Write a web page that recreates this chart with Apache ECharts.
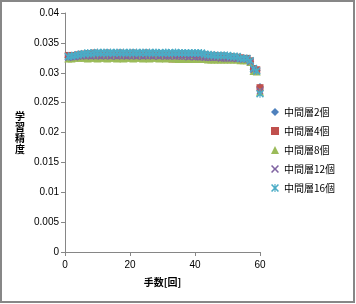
<!DOCTYPE html>
<html><head><meta charset="utf-8">
<script src="https://cdn.jsdelivr.net/npm/echarts@6/dist/echarts.min.js"></script>
<style>html,body{margin:0;padding:0;background:#fff}#c{width:356px;height:304px}</style>
</head><body><div id="c"></div>
<script>
var xValues = [];
for (var i = 1; i <= 60; i++) xValues.push(i);
var seriesNames = ['中間層2個','中間層4個','中間層8個','中間層12個','中間層16個'];
var yTicks = [0,0.005,0.01,0.015,0.02,0.025,0.03,0.035,0.04];
var xTicks = [0,20,40,60];
var s2 = [0.0326,0.0327,0.0328,0.0328,0.0329,0.0329,0.0330,0.0330,0.0330,0.0331,
 0.0330,0.0331,0.0330,0.0331,0.0331,0.0330,0.0331,0.0330,0.0331,0.0330,
 0.0331,0.0330,0.0331,0.0331,0.0330,0.0331,0.0330,0.0330,0.0331,0.0330,
 0.0330,0.0331,0.0330,0.0330,0.0330,0.0331,0.0330,0.0330,0.0330,0.0329,
 0.0330,0.0329,0.0329,0.0328,0.0328,0.0328,0.0327,0.0327,0.0327,0.0326,
 0.0326,0.0325,0.0325,0.0323,0.0323,0.0322,0.0319,0.0306,0.0304,0.0276];
var s4 = [0.0329,0.0328,0.0329,0.0330,0.0331,0.0331,0.0332,0.0331,0.0333,0.0331,
 0.0332,0.0331,0.0333,0.0331,0.0332,0.0332,0.0333,0.0331,0.0332,0.0331,
 0.0333,0.0331,0.0332,0.0331,0.0333,0.0331,0.0332,0.0331,0.0332,0.0331,
 0.0332,0.0331,0.0323,0.0331,0.0332,0.0331,0.0332,0.0331,0.0331,0.0331,
 0.0331,0.0330,0.0330,0.0329,0.0329,0.0329,0.0328,0.0328,0.0328,0.0327,
 0.0327,0.0326,0.0326,0.0325,0.0324,0.0324,0.0320,0.0307,0.0305,0.0275];
var s8 = [0.0324,0.0324,0.0325,0.0325,0.0325,0.0325,0.0324,0.0325,0.0325,0.0324,
 0.0325,0.0325,0.0324,0.0325,0.0325,0.0324,0.0325,0.0324,0.0325,0.0325,
 0.0324,0.0325,0.0325,0.0324,0.0325,0.0324,0.0325,0.0325,0.0324,0.0325,
 0.0324,0.0325,0.0324,0.0324,0.0323,0.0323,0.0323,0.0323,0.0323,0.0323,
 0.0323,0.0323,0.0323,0.0322,0.0322,0.0322,0.0322,0.0322,0.0322,0.0322,
 0.0322,0.0322,0.0322,0.0321,0.0321,0.0321,0.0318,0.0303,0.0302,0.0268];
var s12 = [0.0325,0.0326,0.0326,0.0327,0.0327,0.0328,0.0328,0.0327,0.0328,0.0328,
 0.0327,0.0328,0.0328,0.0327,0.0328,0.0327,0.0328,0.0328,0.0327,0.0328,
 0.0328,0.0327,0.0328,0.0327,0.0328,0.0328,0.0327,0.0328,0.0327,0.0328,
 0.0327,0.0327,0.0328,0.0327,0.0327,0.0327,0.0327,0.0326,0.0327,0.0326,
 0.0326,0.0326,0.0325,0.0325,0.0325,0.0325,0.0325,0.0324,0.0324,0.0324,
 0.0324,0.0324,0.0323,0.0323,0.0322,0.0322,0.0318,0.0305,0.0303,0.0270];
var s16 = [0.0327,0.0328,0.0329,0.0330,0.0331,0.0332,0.0333,0.0332,0.0333,0.0334,
 0.0333,0.0334,0.0333,0.0334,0.0333,0.0334,0.0333,0.0334,0.0333,0.0334,
 0.0333,0.0334,0.0333,0.0334,0.0333,0.0334,0.0333,0.0334,0.0333,0.0333,
 0.0334,0.0333,0.0333,0.0334,0.0333,0.0333,0.0333,0.0333,0.0333,0.0333,
 0.0333,0.0333,0.0331,0.0330,0.0330,0.0329,0.0329,0.0329,0.0329,0.0329,
 0.0327,0.0327,0.0327,0.0324,0.0324,0.0324,0.0320,0.0307,0.0303,0.0265];
var allSeries = [s2, s4, s8, s12, s16];
var colors = ['#4F81BD','#C0504D','#9BBB59','#8064A2','#4BACC6'];
var xPath = 'path://M0,1.4L1.4,0L5,3.6L8.6,0L10,1.4L6.4,5L10,8.6L8.6,10L5,6.4L1.4,10L0,8.6L3.6,5Z';
var starPath = 'path://M0,1.4L1.4,0L5,3.6L8.6,0L10,1.4L6.4,5L10,8.6L8.6,10L5,6.4L1.4,10L0,8.6L3.6,5Z M4.3,0L5.7,0L5.7,10L4.3,10Z';
var symbols = ['diamond','rect','triangle', xPath, starPath];
var symbolSizes = [8, 7, 8, 7, 8];

function pairs(arr){ return arr.map(function(v,i){ return [xValues[i], v]; }); }

var chart = echarts.init(document.getElementById('c'), null, {renderer:'canvas'});
var font = 'Liberation Sans, Arial, sans-serif';
chart.setOption({
  animation: false,
  color: colors,
  graphic: [{type:'rect', shape:{x:1,y:1,width:353,height:301}, style:{fill:'none', stroke:'#878787', lineWidth:2}, silent:true}],
  grid: {left:65, right:96, top:13, bottom:52},
  legend: {
    orient:'vertical', left:266, top:101, itemWidth:8, itemHeight:8, itemGap:7,
    textStyle:{fontSize:10, color:'#000', fontFamily:'Noto Sans CJK JP', lineHeight:12},
    data: seriesNames.map(function(n,i){ return {name:n, icon: symbols[i]}; })
  },
  xAxis: {
    type:'value', min:0, max:60, interval:20,
    name:'手数[回]', nameLocation:'middle', nameGap:25,
    nameTextStyle:{fontSize:10, fontWeight:'bold', color:'#000', fontFamily:'Noto Sans CJK JP'},
    axisLine:{show:true, onZero:false, lineStyle:{color:'#868686', width:1}},
    axisTick:{show:true, length:4, lineStyle:{color:'#868686'}},
    axisLabel:{fontSize:10, color:'#000', margin:8, fontFamily:font, formatter:function(v){ return xTicks.indexOf(v)>=0 ? String(v) : ''; }},
    splitLine:{show:false}
  },
  yAxis: {
    type:'value', min:0, max:0.04, interval:0.005,
    name:'学\n習\n精\n度', nameLocation:'middle', nameGap:40, nameRotate:0,
    nameTextStyle:{fontSize:10, fontWeight:'bold', color:'#000', lineHeight:11, fontFamily:'Noto Sans CJK JP'},
    axisLine:{show:true, onZero:false, lineStyle:{color:'#868686', width:1}},
    axisTick:{show:true, length:4, lineStyle:{color:'#868686'}},
    axisLabel:{fontSize:10, color:'#000', margin:6, fontFamily:font, formatter:function(v){
      for (var k=0;k<yTicks.length;k++){ if (Math.abs(yTicks[k]-v)<1e-9) return String(yTicks[k]); } return ''; }},
    splitLine:{show:false}
  },
  series: allSeries.map(function(arr,i){
    return {name:seriesNames[i], type:'scatter', data:pairs(arr), symbol:symbols[i], symbolSize:symbolSizes[i],
      itemStyle:{color:colors[i], opacity:1}};
  })
});
</script></body></html>
